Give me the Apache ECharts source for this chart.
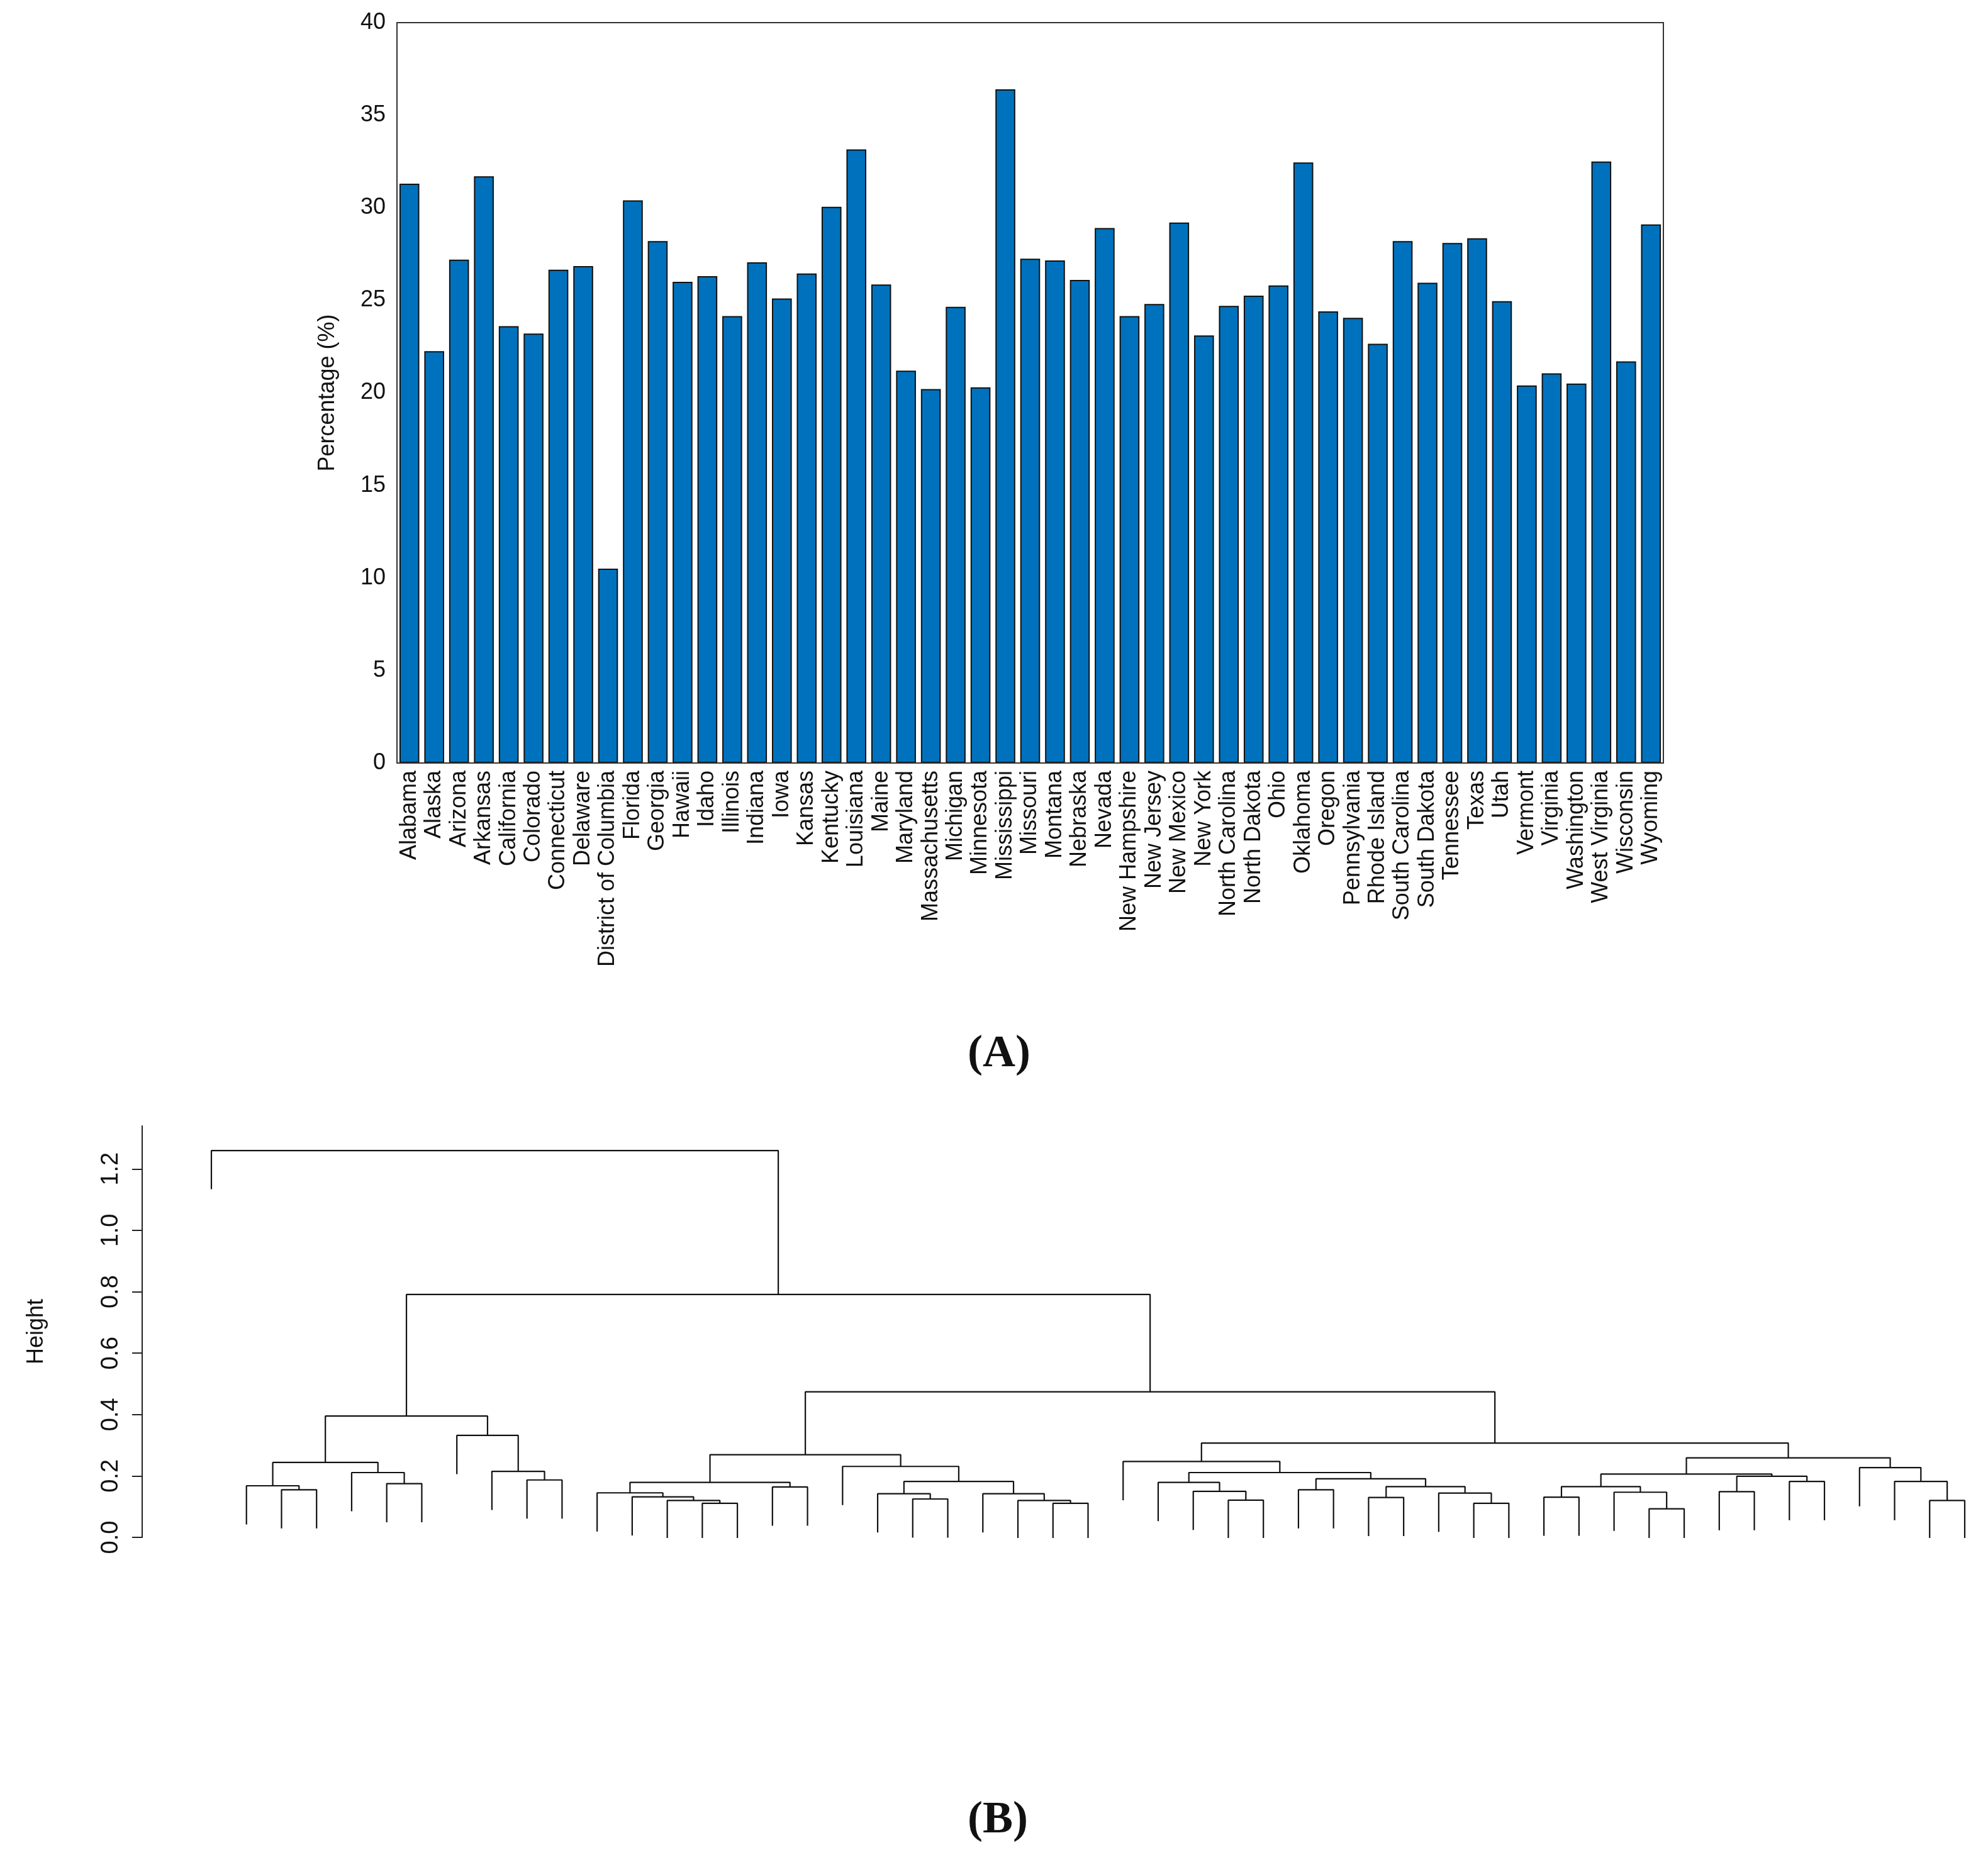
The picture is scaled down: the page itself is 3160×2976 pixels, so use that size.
<!DOCTYPE html>
<html><head><meta charset="utf-8">
<script src="https://cdn.jsdelivr.net/npm/echarts@6/dist/echarts.min.js"></script>
<style>html,body{margin:0;padding:0;background:#fff}#c{width:3160px;height:2976px}</style>
</head><body><div id="c"></div>
<script>
const states = ["Alabama","Alaska","Arizona","Arkansas","California","Colorado","Connecticut","Delaware","District of Columbia","Florida","Georgia","Hawaii","Idaho","Illinois","Indiana","Iowa","Kansas","Kentucky","Louisiana","Maine","Maryland","Massachusetts","Michigan","Minnesota","Mississippi","Missouri","Montana","Nebraska","Nevada","New Hampshire","New Jersey","New Mexico","New York","North Carolina","North Dakota","Ohio","Oklahoma","Oregon","Pennsylvania","Rhode Island","South Carolina","South Dakota","Tennessee","Texas","Utah","Vermont","Virginia","Washington","West Virginia","Wisconsin","Wyoming"];
const percentages = [31.3,22.25,27.2,31.7,23.6,23.2,26.65,26.85,10.5,30.4,28.2,26.0,26.3,24.15,27.05,25.1,26.45,30.05,33.15,25.85,21.2,20.2,24.65,20.3,36.4,27.25,27.15,26.1,28.9,24.15,24.8,29.2,23.1,24.7,25.25,25.8,32.45,24.4,24.05,22.65,28.2,25.95,28.1,28.35,24.95,20.4,21.05,20.5,32.5,21.7,29.1];
const yTicksA = [0,5,10,15,20,25,30,35,40];

const leaves = ["District of Columbia","Florida","Alabama","Oklahoma","New Mexico","Kentucky","Nevada","Mississippi","West Virginia","Arkansas","Louisiana","Massachusetts","Maryland","Virginia","Minnesota","Washington","Vermont","Wisconsin","Rhode Island","North Carolina","New York","Oregon","Pennsylvania","California","Alaska","Colorado","Wyoming","Montana","Missouri","Connecticut","Indiana","Delaware","Kansas","Arizona","Tennessee","South Carolina","Georgia","Texas","Illinois","Michigan","Iowa","Idaho","Utah","Nebraska","Ohio","Maine","New Jersey","Hawaii","South Dakota","New Hampshire","North Dakota"];
const merges = [
 ["Alabama","Oklahoma",0.155],["Florida","#0",0.168],["Kentucky","Nevada",0.175],["New Mexico","#2",0.211],
 ["#1","#3",0.244],["Arkansas","Louisiana",0.187],["West Virginia","#5",0.215],["Mississippi","#6",0.332],
 ["#4","#7",0.395],["Minnesota","Washington",0.111],["Virginia","#9",0.120],["Maryland","#10",0.132],
 ["Massachusetts","#11",0.145],["Vermont","Wisconsin",0.164],["#12","#13",0.179],["New York","Oregon",0.125],
 ["North Carolina","#15",0.142],["Alaska","Colorado",0.111],["California","#17",0.120],["Pennsylvania","#18",0.142],
 ["#16","#19",0.182],["Rhode Island","#20",0.231],["#14","#21",0.269],["Connecticut","Indiana",0.121],
 ["Missouri","#23",0.150],["Montana","#24",0.179],["Delaware","Kansas",0.155],["Arizona","Tennessee",0.130],
 ["Georgia","Texas",0.111],["South Carolina","#28",0.144],["#27","#29",0.165],["#26","#30",0.191],
 ["#25","#31",0.211],["Wyoming","#32",0.247],["Illinois","Michigan",0.131],["Idaho","Utah",0.093],
 ["Iowa","#35",0.147],["#34","#36",0.165],["Nebraska","Ohio",0.149],["Maine","New Jersey",0.182],
 ["#38","#39",0.199],["#37","#40",0.206],["New Hampshire","North Dakota",0.120],["South Dakota","#42",0.182],
 ["Hawaii","#43",0.227],["#41","#44",0.259],["#33","#45",0.307],["#22","#46",0.474],
 ["#8","#47",0.791],["District of Columbia","#48",1.26]
];
const yTicksB = [0,0.2,0.4,0.6,0.8,1.0,1.2];
const hang = 0.126;

const nodeX = [], leafBottom = {};
function posOf(ref){ return ref[0]==='#' ? {x:nodeX[+ref.slice(1)].x, h:nodeX[+ref.slice(1)].h, leaf:false} : {x:leaves.indexOf(ref)+1, leaf:true}; }
const segs = [];
merges.forEach((m,i)=>{
  const a=posOf(m[0]), b=posOf(m[1]), h=m[2];
  const ha = a.leaf ? h-hang : a.h, hb = b.leaf ? h-hang : b.h;
  if(a.leaf) leafBottom[m[0]]=ha; if(b.leaf) leafBottom[m[1]]=hb;
  segs.push([a.x,ha],[a.x,h],[b.x,h],[b.x,hb],'-');
  nodeX[i]={x:(a.x+b.x)/2,h:h};
});
const leafPts = leaves.map((n,i)=>({value:[i+1,leafBottom[n]],name:n}));

const chart = echarts.init(document.getElementById('c'),null,{renderer:'canvas'});
const F='Liberation Sans';
const tick={inside:true,alignWithLabel:true,length:12,lineStyle:{color:'#333',width:2}};
chart.setOption({
  animation:false,
  textStyle:{fontFamily:F},
  grid:[
    {left:631,top:36,width:2013,height:1177,outerBoundsMode:'none',containLabel:false},
    {left:336,right:37,top:1790,bottom:532,outerBoundsMode:'none',containLabel:false}
  ],
  xAxis:[
    {gridIndex:0,type:'category',data:states,boundaryGap:true,z:5,
     axisLine:{onZero:false,lineStyle:{color:'#333',width:2}},axisTick:tick,
     axisLabel:{rotate:90,fontSize:36,color:'#111',margin:12,interval:0,fontFamily:F}},
    {gridIndex:0,type:'category',data:states,position:'top',z:5,
     axisLine:{onZero:false,lineStyle:{color:'#333',width:2}},axisTick:tick,
     axisLabel:{show:false}},
    {gridIndex:1,type:'value',min:1,max:51,show:false}
  ],
  yAxis:[
    {gridIndex:0,type:'value',min:0,max:40,interval:5,name:'Percentage (%)',nameLocation:'middle',nameGap:92,z:5,
     nameTextStyle:{fontSize:36,color:'#111',fontFamily:F},
     axisLine:{show:true,onZero:false,lineStyle:{color:'#333',width:2}},axisTick:{inside:true,length:14,lineStyle:{color:'#333',width:2}},
     axisLabel:{fontSize:36,color:'#111',margin:18},splitLine:{show:false}},
    {gridIndex:0,type:'value',min:0,max:40,interval:5,position:'right',z:5,
     axisLine:{show:true,onZero:false,lineStyle:{color:'#333',width:2}},axisTick:{inside:true,length:14,lineStyle:{color:'#333',width:2}},
     axisLabel:{show:false},splitLine:{show:false}},
    {gridIndex:1,type:'value',min:0,max:1.34,interval:0.2,offset:110,
     name:'Height',nameLocation:'middle',nameGap:150,nameTextStyle:{fontSize:36,color:'#111'},
     axisLine:{show:true,lineStyle:{color:'#222',width:2}},axisTick:{length:16,lineStyle:{color:'#222',width:2}},
     axisLabel:{rotate:90,fontSize:38,color:'#111',margin:30,showMaxLabel:false,formatter:v=>(v<=1.21)?v.toFixed(1):''},
     splitLine:{show:false}}
  ],
  series:[
    {type:'bar',xAxisIndex:0,yAxisIndex:0,data:percentages,barWidth:'80%',
     itemStyle:{color:'#0072BD',borderColor:'#111',borderWidth:2}},
    {type:'line',xAxisIndex:2,yAxisIndex:2,data:segs,symbol:'none',connectNulls:false,
     lineStyle:{color:'#111',width:2.2}},
    {type:'scatter',xAxisIndex:2,yAxisIndex:2,data:leafPts,symbolSize:1,itemStyle:{opacity:0},
     labelLayout:{hideOverlap:false},
     label:{show:true,position:'bottom',distance:14,rotate:90,align:'right',verticalAlign:'middle',
       formatter:p=>p.name,fontSize:38,color:'#111',fontFamily:F}}
  ],
  graphic:[
    {type:'text',left:1538,top:1640,style:{text:'(A)',font:'bold 72px "Liberation Serif"',fill:'#111'}},
    {type:'text',left:1538,top:2858,style:{text:'(B)',font:'bold 72px "Liberation Serif"',fill:'#111'}}
  ]
});
</script></body></html>
